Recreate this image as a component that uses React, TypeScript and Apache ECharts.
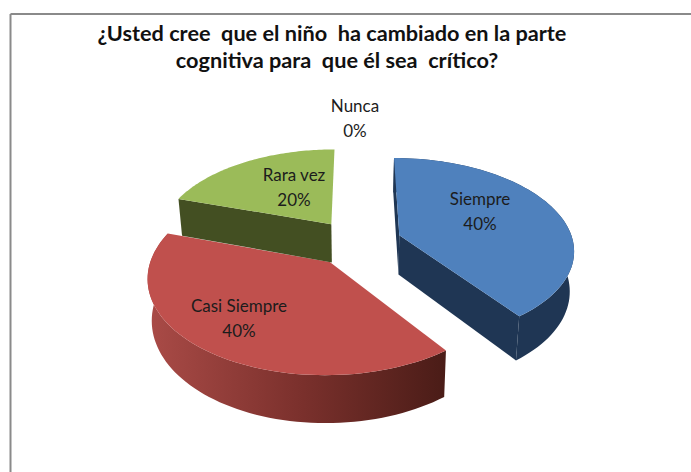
import React, { useEffect, useRef } from "react";
import * as echarts from "echarts";

const TITLE_LINES = ["¿Usted cree  que el niño  ha cambiado en la parte", "cognitiva para  que él sea  crítico?"];
const CATEGORIES = ["Siempre", "Casi Siempre", "Rara vez", "Nunca"];
const VALUES = [40, 40, 20, 0];

const TOP_COLORS = ["#4F81BD", "#C0504D", "#9BBB59", "#8064A2"];
const WALL_COLORS = ["#1F3654", "#7A2F2B", "#434F22", "#3F3151"];
const LABEL_XY = [[480, 211], [239, 318], [294, 187], [355, 118]];
const DRAW_ORDER = [2, 1, 3, 0]; // painter's order per slice index

// Perspective model of the 3D pie
const CX = 357, CY = 242.5, R = 174, TILT = 0.52, PERSP = 1200, EXPLODE = 45, DEPTH = 39.5, BOTTOM_SHRINK = 0.98;
const FONT = "Lato, Carlito, 'Noto Sans', sans-serif";
const rad = (d: number) => (d * Math.PI) / 180;

function project(X: number, V: number, bottom: boolean): number[] {
  const p = PERSP / (PERSP + V);
  const x = CX + X * p * (bottom ? BOTTOM_SHRINK : 1);
  const y = CY - TILT * V * p + (bottom ? DEPTH * p : 0);
  return [x, y];
}

function renderSlice(params: any, api: any) {
  const i = params.dataIndex;
  const total = VALUES.reduce((a, b) => a + b, 0);
  let before = 0;
  for (let k = 0; k < i; k++) before += VALUES[k];
  const value = api.value(0);
  const a0 = (before / total) * 360;
  const a1 = ((before + value) / total) * 360;
  const children: any[] = [];
  const order = DRAW_ORDER[i] * 10;

  if (value > 0) {
    const mid = rad((a0 + a1) / 2);
    const ox = EXPLODE * Math.sin(mid);
    const ov = EXPLODE * Math.cos(mid);
    const arc = (bottom: boolean) => {
      const pts: number[][] = [];
      const n = 72;
      for (let s = 0; s <= n; s++) {
        const t = rad(a0 + ((a1 - a0) * s) / n);
        pts.push(project(ox + R * Math.sin(t), ov + R * Math.cos(t), bottom));
      }
      return pts;
    };
    const topArc = arc(false);
    const botArc = arc(true);
    const apexT = project(ox, ov, false);
    const apexB = project(ox, ov, true);
    const wallFill = i === 1
      ? new echarts.graphic.LinearGradient(0, 0, 1, 0, [
          { offset: 0, color: "#AA4B47" },
          { offset: 0.5, color: "#7C312D" },
          { offset: 1, color: "#4A1C17" },
        ])
      : WALL_COLORS[i];
    const last = topArc.length - 1;
    if (i === 0) {
      // both straight walls of the blue slice face the viewer
      children.push({ type: "polygon", z2: order, shape: { points: [apexT, topArc[0], botArc[0], apexB] }, style: { fill: WALL_COLORS[i] } });
      children.push({ type: "polygon", z2: order, shape: { points: [apexT, topArc[last], botArc[last], apexB] }, style: { fill: WALL_COLORS[i] } });
    }
    if (i === 2) {
      children.push({ type: "polygon", z2: order, shape: { points: [apexT, topArc[0], botArc[0], apexB] }, style: { fill: WALL_COLORS[i] } });
    } else {
      // outer rim wall (the green rim faces away from the viewer)
      children.push({
        type: "polygon", z2: order + 1,
        shape: { points: topArc.concat(botArc.slice().reverse()) },
        style: { fill: wallFill },
      });
    }
    // top face
    children.push({
      type: "polygon", z2: order + 2,
      shape: { points: [apexT].concat(topArc) },
      style: { fill: TOP_COLORS[i] },
    });
  }
  const pct = Math.round((value / total) * 100);
  children.push({
    type: "text", z2: 100,
    style: {
      text: `${CATEGORIES[i]}\n${pct}%`,
      x: LABEL_XY[i][0], y: LABEL_XY[i][1],
      align: "center", verticalAlign: "middle",
      fill: "#1c1c1c", fontFamily: FONT, fontSize: 17, lineHeight: 25,
    },
  });
  return { type: "group", children };
}

export default function App() {
  const ref = useRef<HTMLDivElement>(null);
  useEffect(() => {
    const chart = echarts.init(ref.current!, undefined, { renderer: "svg" });
    const titleStyle = { fontFamily: FONT, fontWeight: "bold", fontSize: 21.7, lineHeight: 27, color: "#111111" };
    chart.setOption({
      animation: false,
      backgroundColor: "#ffffff",
      title: [
        { text: TITLE_LINES[0], left: 327, top: 14, textAlign: "center", textStyle: titleStyle },
        { text: TITLE_LINES[1], left: 332, top: 41, textAlign: "center", textStyle: titleStyle },
      ],
      graphic: [
        { type: "line", shape: { x1: 10.5, y1: 14, x2: 691, y2: 14 }, style: { stroke: "#8A8A8A", lineWidth: 2 } },
        { type: "line", shape: { x1: 10.5, y1: 14, x2: 10.5, y2: 472 }, style: { stroke: "#8A8A8A", lineWidth: 2 } },
      ],
      series: [{
        type: "custom",
        coordinateSystem: "none",
        renderItem: renderSlice,
        data: VALUES.map((v, i) => ({ name: CATEGORIES[i], value: [v] })),
      }],
    });
    return () => chart.dispose();
  }, []);
  return <div ref={ref} style={{ position: "fixed", left: 0, top: 0, width: 691, height: 472 }} />;
}
